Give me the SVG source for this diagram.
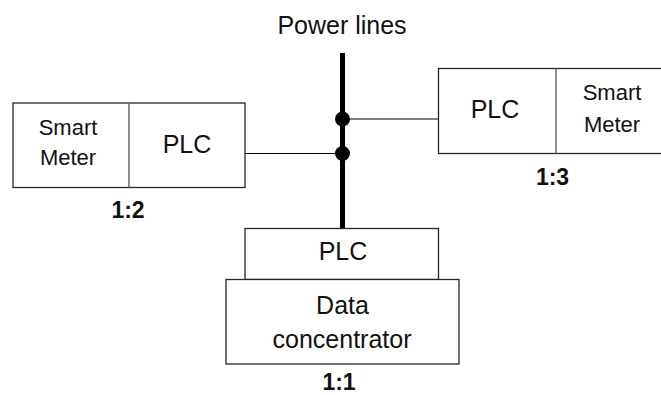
<svg xmlns="http://www.w3.org/2000/svg" width="661" height="395" viewBox="0 0 661 395">
<style>
.box{fill:#fff;stroke:#262626;stroke-width:1.3}
.div{stroke:#6b6b6b;stroke-width:1.5}
.t{font-family:"Liberation Sans",Arial,sans-serif;font-size:25px;fill:#111;text-anchor:middle}
.s{font-family:"Liberation Sans",Arial,sans-serif;font-size:22px;fill:#111;text-anchor:middle}
.b{font-family:"Liberation Sans",Arial,sans-serif;font-size:23px;font-weight:bold;fill:#111;text-anchor:middle}
.wire{stroke:#000;stroke-width:1.2;fill:none}
.bus{stroke:#000;stroke-width:5;fill:none}
</style>
<g id="connectors">
<line class="bus" x1="342.5" y1="53" x2="342.5" y2="229"/>
<line class="wire" x1="342" y1="119" x2="438.5" y2="119"/>
<line class="wire" x1="245" y1="153.5" x2="342" y2="153.5"/>
<circle cx="342.5" cy="119" r="7.5" fill="#000"/>
<circle cx="342.5" cy="153.5" r="7.5" fill="#000"/>
</g>
<g id="power-lines"><text class="t" x="342" y="34">Power lines</text></g>
<g id="node-1-2">
<rect class="box" x="13" y="103" width="232" height="84.5"/>
<line class="div" x1="129" y1="103" x2="129" y2="187.5"/>
<text class="s" x="68" y="135">Smart</text>
<text class="s" x="68" y="165">Meter</text>
<text class="t" x="187" y="153">PLC</text>
<text class="b" x="128" y="217.5">1:2</text>
</g>
<g id="node-1-3">
<rect class="box" x="438.5" y="68.5" width="224" height="85"/>
<line class="div" x1="556" y1="68.5" x2="556" y2="153.5"/>
<text class="t" x="495" y="118">PLC</text>
<text class="s" x="612" y="100">Smart</text>
<text class="s" x="612" y="131.5">Meter</text>
<text class="b" x="552.5" y="184.5">1:3</text>
</g>
<g id="node-1-1">
<rect class="box" x="245" y="228.5" width="193.5" height="51"/>
<rect class="box" x="226" y="279.5" width="233" height="84.5"/>
<text class="t" x="343" y="259.5">PLC</text>
<text class="t" x="342.5" y="313.5">Data</text>
<text class="t" x="342" y="347.5">concentrator</text>
<text class="b" x="339" y="390">1:1</text>
</g>
</svg>
